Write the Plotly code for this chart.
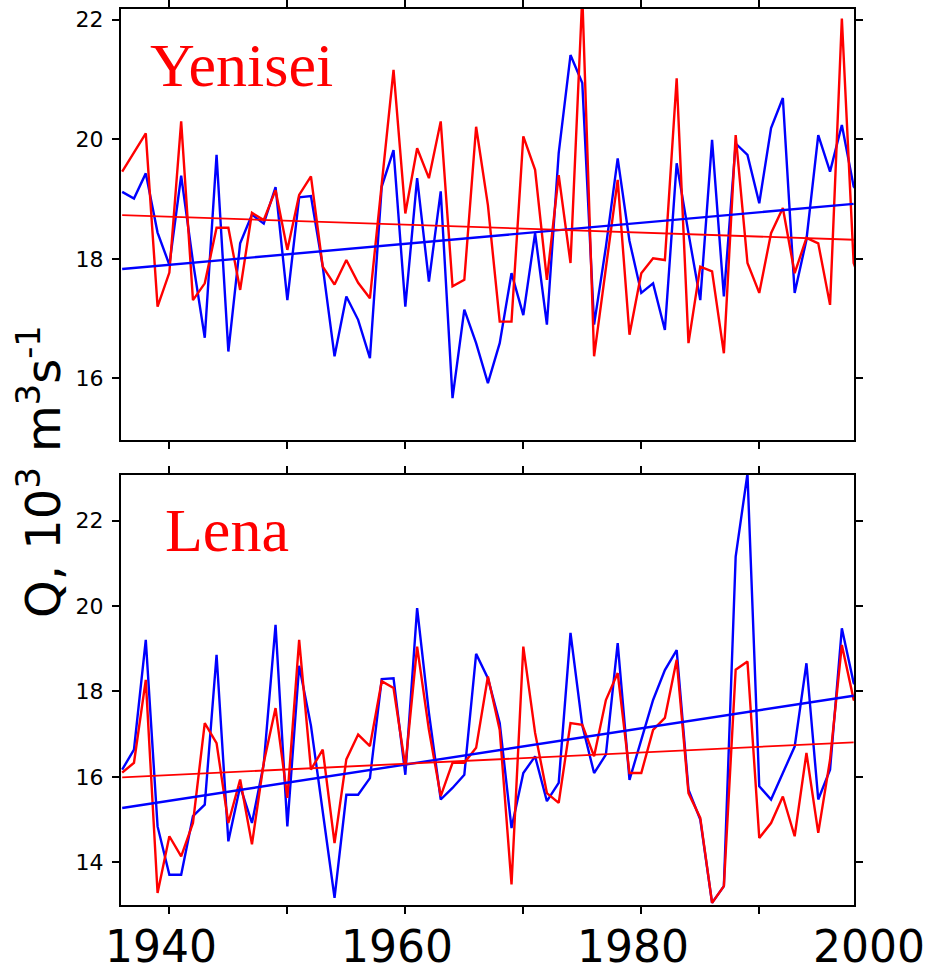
import plotly.graph_objects as go

# ---------------- data ----------------
years = list(range(1936, 2000))

yenisei_blue = [19.12, 19.01, 19.43, 18.44, 17.90, 19.39, 17.95, 16.68, 19.74, 16.45,
                18.26, 18.74, 18.59, 19.20, 17.31, 19.03, 19.05, 17.87, 16.37, 17.37,
                16.98, 16.34, 19.21, 19.82, 17.20, 19.35, 17.62, 19.13, 15.67, 17.15,
                16.59, 15.92, 16.59, 17.76, 17.06, 18.43, 16.90, 19.77, 21.41, 20.94,
                16.90, 18.20, 19.68, 18.30, 17.43, 17.59, 16.81, 19.60, 18.43, 17.31,
                19.99, 17.37, 19.93, 19.74, 18.93, 20.19, 20.69, 17.43, 18.32, 20.07,
                19.46, 20.24, 19.21, 19.00]

yenisei_red = [19.46, 19.78, 20.10, 17.20, 17.77, 20.30, 17.31, 17.59, 18.52, 18.52,
               17.48, 18.77, 18.65, 19.15, 18.15, 19.07, 19.38, 17.87, 17.57, 17.98,
               17.60, 17.34, 19.20, 21.16, 18.76, 19.85, 19.35, 20.30, 17.54, 17.65,
               20.21, 18.90, 16.95, 16.95, 20.05, 19.49, 17.65, 19.40, 17.93, 22.40,
               16.37, 17.85, 19.32, 16.73, 17.76, 18.01, 17.98, 21.02, 16.59, 17.87,
               17.79, 16.42, 20.07, 17.93, 17.43, 18.43, 18.85, 17.76, 18.35, 18.26,
               17.23, 22.02, 17.93, 17.40]

lena_blue = [16.17, 16.64, 19.21, 14.84, 13.71, 13.71, 15.08, 15.35, 18.86, 14.49,
             15.78, 14.92, 16.30, 19.56, 14.84, 18.60, 17.20, 15.20, 13.17, 15.58,
             15.58, 15.97, 18.29, 18.31, 16.05, 19.95, 17.50, 15.47, 15.74, 16.05,
             18.88, 18.31, 17.26, 14.80, 16.09, 16.48, 15.43, 15.86, 19.37, 17.20,
             16.09, 16.52, 19.13, 15.93, 16.87, 17.80, 18.50, 18.97, 15.70, 15.00,
             13.05, 13.44, 21.16, 23.10, 15.78, 15.47, 16.09, 16.71, 18.66, 15.47,
             16.17, 19.48, 18.20, 17.90]

lena_red = [16.10, 16.33, 18.27, 13.28, 14.61, 14.14, 14.92, 17.26, 16.79, 14.92,
            15.94, 14.42, 16.33, 17.61, 15.51, 19.21, 16.17, 16.64, 14.45, 16.41,
            16.99, 16.72, 18.24, 18.08, 16.25, 19.05, 17.10, 15.55, 16.33, 16.33,
            16.68, 18.35, 17.10, 13.48, 19.05, 17.03, 15.62, 15.39, 17.26, 17.22,
            16.48, 17.80, 18.43, 16.09, 16.09, 17.10, 17.38, 18.74, 15.62, 15.04,
            13.05, 13.44, 18.51, 18.70, 14.57, 14.92, 15.54, 14.61, 16.56, 14.69,
            16.40, 19.09, 17.81, 17.70]

# linear trends (values read at start and end years)
trend_years = [1936, 1998]
yenisei_blue_trend = [17.83, 18.92]
yenisei_red_trend = [18.73, 18.32]
lena_blue_trend = [15.27, 17.90]
lena_red_trend = [15.99, 16.81]

panel_names = ["Yenisei", "Lena"]
yen_ticks = [16, 18, 20, 22]
lena_ticks = [14, 16, 18, 20, 22]
x_label_years = [1940, 1960, 1980, 2000]
x_label_text = ["1940", "1960", "1980", "2000"]
y_title = "Q, 10<sup>3</sup> m<sup>3</sup>s<sup>-1</sup>"

BLUE = "#0000ff"
RED = "#ff0000"

fig = go.Figure()


def add_panel(xa, ya, blue, red, btrend, rtrend):
    fig.add_trace(go.Scatter(x=years, y=blue, mode="lines", xaxis=xa, yaxis=ya,
                             line=dict(color=BLUE, width=2.4), showlegend=False))
    fig.add_trace(go.Scatter(x=years, y=red, mode="lines", xaxis=xa, yaxis=ya,
                             line=dict(color=RED, width=2.4), showlegend=False))
    fig.add_trace(go.Scatter(x=trend_years, y=btrend, mode="lines", xaxis=xa, yaxis=ya,
                             line=dict(color=BLUE, width=2.4), showlegend=False))
    fig.add_trace(go.Scatter(x=trend_years, y=rtrend, mode="lines", xaxis=xa, yaxis=ya,
                             line=dict(color=RED, width=1.8), showlegend=False))


add_panel("x", "y", yenisei_blue, yenisei_red, yenisei_blue_trend, yenisei_red_trend)
add_panel("x2", "y2", lena_blue, lena_red, lena_blue_trend, lena_red_trend)

XR = [1935.9, 1998.03]
common = dict(showline=True, linecolor="black", linewidth=2, mirror="ticks",
              ticks="outside", ticklen=7, tickwidth=1.5, tickcolor="black",
              showgrid=False, zeroline=False)
tickfont = dict(family="DejaVu Sans", size=22, color="black")

fig.update_layout(
    width=935, height=973, autosize=False,
    margin=dict(l=121, r=81, t=9, b=68, pad=0, autoexpand=False),
    paper_bgcolor="white", plot_bgcolor="white",
    xaxis=dict(domain=[0, 1], anchor="y", range=XR, tick0=1940, dtick=10,
               showticklabels=False, **common),
    yaxis=dict(domain=[0.519, 1], anchor="x", range=[14.97, 22.18],
               tickvals=yen_ticks, ticktext=[str(v) for v in yen_ticks],
               tickfont=tickfont, ticklabelstandoff=4, **common),
    xaxis2=dict(domain=[0, 1], anchor="y2", range=XR, tick0=1940, dtick=10,
                showticklabels=False, **common),
    yaxis2=dict(domain=[0, 0.48], anchor="x2", range=[13.0, 23.07],
                tickvals=lena_ticks, ticktext=[str(v) for v in lena_ticks],
                tickfont=tickfont, ticklabelstandoff=4, **common),
)

annotations = []
# panel names
annotations.append(dict(text=panel_names[0], xref="paper", yref="paper",
                        x=0.0368, y=0.937, xanchor="left", yanchor="middle",
                        showarrow=False,
                        font=dict(family="Liberation Serif", size=62, color=RED)))
annotations.append(dict(text=panel_names[1], xref="paper", yref="paper",
                        x=0.0573, y=0.419, xanchor="left", yanchor="middle",
                        showarrow=False,
                        font=dict(family="Liberation Serif", size=62, color=RED)))
# shared y title
annotations.append(dict(text=y_title, xref="paper", yref="paper",
                        x=-0.1105, y=0.4833, xanchor="center", yanchor="middle",
                        textangle=-90, showarrow=False,
                        font=dict(family="DejaVu Sans", size=48, color="black")))
# x tick labels, placed on the bottom axis scale (2000 lies beyond the plotted range)
for yr, txt in zip(x_label_years, x_label_text):
    xp = (yr - XR[0]) / (XR[1] - XR[0])
    annotations.append(dict(text=txt, xref="paper", yref="paper", x=xp, y=-0.046,
                            xanchor="center", yanchor="middle", xshift=-8,
                            showarrow=False,
                            font=dict(family="DejaVu Sans", size=44, color="black")))
fig.update_layout(annotations=annotations)

fig.write_html("out.html")
